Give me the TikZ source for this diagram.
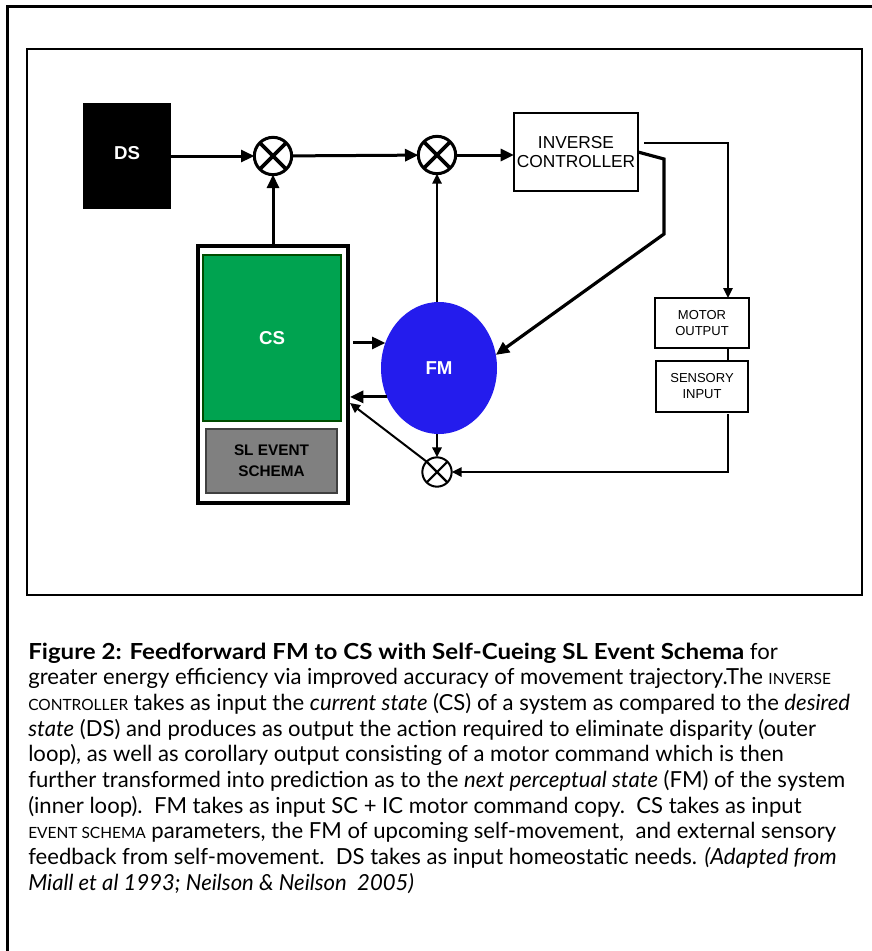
\documentclass[tikz,border=0pt]{standalone}
\usepackage{fontspec}
\usepackage{graphicx}
\setmainfont{Lato}
\newfontfamily\arialfont{Liberation Sans}
\usetikzlibrary{arrows.meta,shapes.geometric,calc}
\definecolor{fmblue}{RGB}{36,28,237}
\definecolor{csgreen}{RGB}{0,163,80}
\definecolor{slgray}{RGB}{128,128,128}
\newcommand\smc[1]{{\fontsize{11.6pt}{13pt}\selectfont #1}}
\begin{document}
\begin{tikzpicture}[x=0.75pt,y=-0.75pt,
  box/.style={draw, line width=0.9pt, align=center, inner sep=0pt, outer sep=0pt,
    font=\arialfont\fontsize{13pt}{14.25pt}\selectfont},
  smallbox/.style={box, line width=0.8pt, font=\arialfont\fontsize{9.75pt}{12pt}\selectfont},
  mult/.style={circle, draw, line width=2.25pt, inner sep=0pt, outer sep=0pt, minimum size=28pt,
    path picture={\draw[line width=2.8pt] (path picture bounding box.north west) -- (path picture bounding box.south east)
      (path picture bounding box.north east) -- (path picture bounding box.south west);}},
  smallmult/.style={mult, line width=1.5pt, minimum size=22pt,
    path picture={\draw[line width=1.6pt] (path picture bounding box.north west) -- (path picture bounding box.south east)
      (path picture bounding box.north east) -- (path picture bounding box.south west);}},
  whitebold/.style={text=white, font=\arialfont\bfseries\fontsize{14pt}{16pt}\selectfont},
  arr/.style={line width=2.25pt, -{Triangle[length=10pt,width=9pt]}},
  thinarr/.style={line width=1.5pt, -{Triangle[length=7.5pt,width=7pt]}},
  thinline/.style={line width=1.5pt},
  caption/.style={anchor=base west, inner sep=0pt, font=\fontsize{16.58pt}{19pt}\selectfont}
]
\useasboundingbox (0,0) rectangle (872,951);
\fill[white] (0,0) rectangle (872,951);
% frames
\draw[line width=2.25pt] (7,951) -- (7,6) -- (872,6);
\draw[line width=1.2pt] (27,49) rectangle (862,595);

% nodes
\node[fill=black, minimum width=66pt, minimum height=79.5pt, inner sep=0pt, outer sep=0pt, whitebold] (ds) at (127,156) {\raisebox{4.5pt}{DS}};
\node[mult] (m1) at (273,156) {};
\node[mult] (m2) at (437,155) {};
\node[box, minimum width=93pt, minimum height=58.5pt] (ic) at (576,152) {INVERSE\\CONTROLLER};
\node[smallbox, minimum width=70.5pt, minimum height=37.5pt] (motor) at (702,323) {MOTOR\\OUTPUT};
\node[smallbox, minimum width=69pt, minimum height=38.25pt] (sensory) at (702,386.5) {SENSORY\\INPUT};
\node[ellipse, fill=fmblue, minimum width=87pt, minimum height=99pt, inner sep=0pt, outer sep=0pt, whitebold] (fm) at (439,368) {FM};
\node[smallmult] (m3) at (437,472) {};
\node[draw, line width=3pt, minimum width=112.5pt, minimum height=192.75pt, inner sep=0pt, outer sep=0pt] (csframe) at (273,374.5) {};
\node[fill=csgreen, draw=green!30!black, line width=0.9pt, minimum width=103.5pt, minimum height=124.5pt, inner sep=0pt, outer sep=0pt, whitebold] (cs) at (272,338) {CS};
\node[fill=slgray, draw=black!75, line width=1.2pt, minimum width=98.25pt, minimum height=48pt, inner sep=0pt, outer sep=0pt, align=center,
  font=\arialfont\bfseries\fontsize{11.5pt}{15.5pt}\selectfont] (sl) at (271.5,461) {SL EVENT\\SCHEMA};
\coordinate (vline) at (728,143);

% connectors
\draw[arr] (ds) -- (m1);
\draw[arr] (m1) -- (m2);
\draw[arr] (m2.east) -- (m2.east -| ic.west);
\draw[arr] (csframe.north) -- (m1.south);
\draw[thinarr] (fm.north -| m2) -- (m2.south);
\draw[thinarr] ([xshift=4.5pt]ic.east |- vline) -- (vline) -- (vline |- motor.north);
\draw[arr, line width=2.4pt] (ic.east) -- (664,159) -- (664,234) -- (fm.13);
\draw[thinline] (vline |- motor.south) -- (vline |- sensory.north);
\draw[thinarr] ([yshift=-1.5pt]vline |- sensory.south) -- (vline |- m3) -- (m3.east);
\draw[thinarr] (fm.south -| m3) -- (m3.north);
\draw[thinarr] (m3.north west) -- ($(csframe.east)+(2,28.5)$);
\draw[arr] ($(fm.155 -| csframe.east)+(5,0)$) -- (fm.155);
\draw[arr] (fm.209) -- ($(fm.209 -| csframe.east)+(2,0)$);

% caption
\node[caption] (c1) at (28,659) {\scalebox{1.09}[1]{\textbf{Figure 2: Feedforward FM to CS with Self-Cueing SL Event Schema}} for};
\node[caption] (c2) at (28,684.7) {greater energy efficiency via improved accuracy of movement trajectory.The \smc{INVERSE}};
\node[caption] (c3) at (28,710.4) {\smc{CONTROLLER} takes as input the \textit{current state} (CS) of a system as compared to the \textit{desired}};
\node[caption] (c4) at (28,736.1) {\textit{state} (DS) and produces as output the action required to eliminate disparity (outer};
\node[caption] (c5) at (28,761.8) {loop), as well as corollary output consisting of a motor command which is then};
\node[caption] (c6) at (28,787.5) {further transformed into prediction as to the \textit{next perceptual state} (FM) of the system};
\node[caption] (c7) at (28,813.2) {(inner loop).\ \ FM takes as input SC + IC motor command copy.\ \ CS takes as input};
\node[caption] (c8) at (28,838.9) {\smc{EVENT SCHEMA} parameters, the FM of upcoming self-movement,\ \ and external sensory};
\node[caption] (c9) at (28,864.6) {feedback from self-movement.\ \ DS takes as input homeostatic needs. \textit{(Adapted from}};
\node[caption] (c10) at (28,890.3) {\textit{Miall et al 1993; Neilson \& Neilson\ \ 2005)}};
\end{tikzpicture}
\end{document}
